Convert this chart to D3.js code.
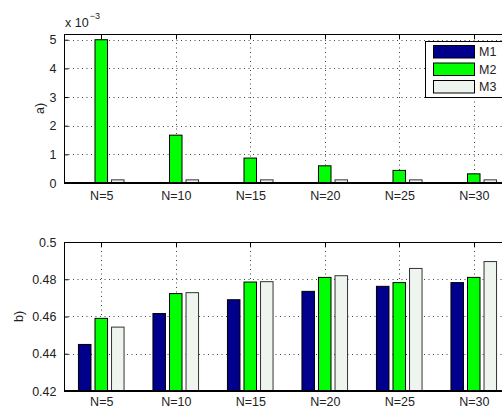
<!DOCTYPE html>
<html>
<head>
<meta charset="utf-8">
<script src="https://cdn.jsdelivr.net/npm/d3@7"></script>
<style>
  html, body { margin: 0; padding: 0; background: #fff; }
  svg { display: block; }
  text { font-family: "Liberation Sans", Arial, Helvetica, sans-serif; fill: #222; }
</style>
</head>
<body>
<svg id="chart" width="502" height="409"></svg>
<script>
// Group labels and series
const categories = ["N=5", "N=10", "N=15", "N=20", "N=25", "N=30"];
const seriesNames = ["M1", "M2", "M3"];
const seriesColors = ["#00008c", "#00ff00", "#eef4ee"];

// Panel a) values, in units of 1e-3
const a_M1 = [0.0, 0.0, 0.0, 0.0, 0.0, 0.0];
const a_M2 = [5.0, 1.67, 0.87, 0.60, 0.44, 0.32];
const a_M3 = [0.11, 0.11, 0.11, 0.11, 0.11, 0.11];

// Panel b) values
const b_M1 = [0.445, 0.4616, 0.4690, 0.4735, 0.4762, 0.4782];
const b_M2 = [0.4590, 0.4723, 0.4785, 0.4810, 0.4782, 0.4810];
const b_M3 = [0.4543, 0.4728, 0.4787, 0.4819, 0.4858, 0.4895];

// Tick values
const aTicks = [0, 1, 2, 3, 4, 5];
const bTicks = [0.42, 0.44, 0.46, 0.48, 0.5];

const svg = d3.select("#chart");
const left = 64, right = 511;
const x = d3.scaleLinear().domain([0.5, categories.length + 0.5]).range([left, right]);
const offsets = [-0.222, 0, 0.222];
const barW = 0.168;
const fontSize = 12.5;

function panel(opts) {
  const { top, bottom, domain, ticks, fmt, series, label, labelX, xPad } = opts;
  const y = d3.scaleLinear().domain(domain).range([bottom, top]);
  const g = svg.append("g");

  // dotted grid
  const grid = g.append("g").attr("class", "grid");
  grid.selectAll("line.h").data(ticks.filter(t => t !== domain[0] && t !== domain[1]))
    .join("line").attr("class", "h")
    .attr("x1", left).attr("x2", right)
    .attr("y1", d => Math.round(y(d)) + 0.5).attr("y2", d => Math.round(y(d)) + 0.5);
  grid.selectAll("line.v").data(categories.map((c, i) => i + 1))
    .join("line").attr("class", "v")
    .attr("x1", d => Math.round(x(d)) + 0.5).attr("x2", d => Math.round(x(d)) + 0.5)
    .attr("y1", top).attr("y2", bottom);
  grid.selectAll("line").attr("stroke", "#444").attr("stroke-width", 1)
    .attr("stroke-dasharray", "1,3.5");

  // bars
  series.forEach((vals, si) => {
    g.append("g").selectAll("rect").data(vals).join("rect")
      .attr("x", (d, i) => x(i + 1 + offsets[si] - barW / 2))
      .attr("width", x(1 + barW) - x(1))
      .attr("y", d => y(Math.max(d, domain[0])))
      .attr("height", d => y(domain[0]) - y(Math.max(d, domain[0])))
      .attr("fill", seriesColors[si])
      .attr("stroke", si === 2 ? "#333" : "#000")
      .attr("stroke-width", 1);
  });

  // box
  g.append("rect").attr("x", left + 0.5).attr("y", top + 0.5)
    .attr("width", right - left).attr("height", bottom - top)
    .attr("fill", "none").attr("stroke", "#000").attr("stroke-width", 1);
  g.append("line").attr("x1", left).attr("x2", right)
    .attr("y1", bottom).attr("y2", bottom)
    .attr("stroke", "#000").attr("stroke-width", 2);

  // y axis (inward ticks)
  const yAxis = d3.axisLeft(y).tickValues(ticks).tickFormat(fmt).tickSize(-4).tickPadding(8);
  const ya = g.append("g").attr("transform", `translate(${left + 0.5},0)`).call(yAxis);
  ya.select(".domain").remove();
  ya.selectAll("text").attr("font-size", fontSize).style("font-family", "Liberation Sans, Arial, sans-serif").attr("fill", "#222");

  // x axis labels
  const xAxis = d3.axisBottom(x).tickValues(categories.map((c, i) => i + 1))
    .tickFormat((d) => categories[d - 1]).tickSize(0).tickPadding(xPad);
  const xa = g.append("g").attr("transform", `translate(0,${bottom})`).call(xAxis);
  xa.select(".domain").remove();
  xa.selectAll("text").attr("font-size", fontSize).style("font-family", "Liberation Sans, Arial, sans-serif").attr("fill", "#222");

  // top inward ticks
  g.append("g").selectAll("line").data(categories.map((c, i) => i + 1)).join("line")
    .attr("x1", d => Math.round(x(d)) + 0.5).attr("x2", d => Math.round(x(d)) + 0.5)
    .attr("y1", top).attr("y2", top + 5).attr("stroke", "#000");

  // panel label
  g.append("text").attr("transform", `translate(${labelX},${(top + bottom) / 2}) rotate(-90)`)
    .attr("text-anchor", "middle").attr("dy", "0.35em").attr("font-size", fontSize).text(label);
  return y;
}

panel({ top: 34, bottom: 183, domain: [0, 5.2], ticks: aTicks, fmt: d3.format("d"),
        series: [a_M1, a_M2, a_M3], label: "a)", labelX: 40, xPad: 8 });
panel({ top: 242, bottom: 391, domain: [0.42, 0.5], ticks: bTicks, fmt: d => d === 0.5 ? "0.5" : d3.format(".2f")(d),
        series: [b_M1, b_M2, b_M3], label: "b)", labelX: 19, xPad: 6.5 });

// exponent note for panel a)
const ex = svg.append("text").attr("x", 65).attr("y", 27).attr("font-size", fontSize);
ex.append("tspan").text("x 10");
ex.append("tspan").attr("font-size", 9).attr("dy", -8).attr("dx", 1).text("\u22123");

// legend
const lg = svg.append("g");
lg.append("rect").attr("x", 425.5).attr("y", 41.5).attr("width", 90).attr("height", 56)
  .attr("fill", "#fff").attr("stroke", "#000").attr("stroke-width", 1);
seriesNames.forEach((n, i) => {
  const yy = 45.5 + i * 17.5;
  lg.append("rect").attr("x", 433.5).attr("y", yy).attr("width", 41).attr("height", 12.5)
    .attr("fill", seriesColors[i]).attr("stroke", "#000");
  lg.append("text").attr("x", 479).attr("y", yy + 6.5).attr("dy", "0.35em")
    .attr("font-size", fontSize).text(n);
});
</script>
</body>
</html>
